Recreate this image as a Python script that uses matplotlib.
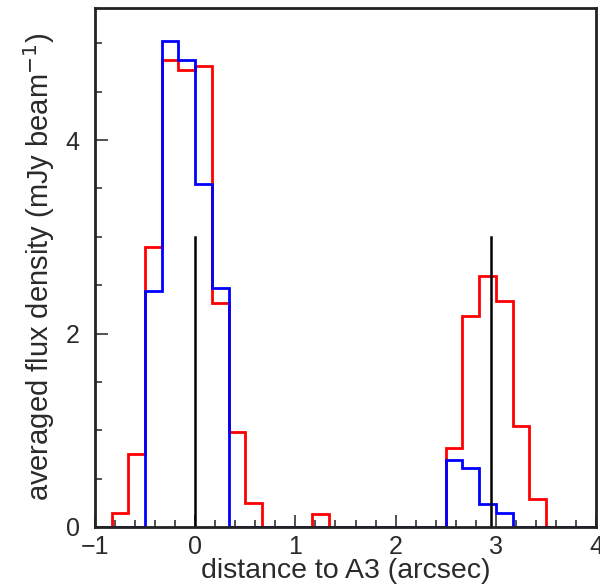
import numpy as np
import matplotlib
matplotlib.use("Agg")
import matplotlib.pyplot as plt
from matplotlib.ticker import MultipleLocator

# bin edges: width 1/6 arcsec from -1 to 4
bin_width = 1.0 / 6.0
x_min, x_max = -1.0, 4.0
n_bins = 30

red_values = [0.0, 0.14, 0.75, 2.89, 4.83, 4.72, 4.77, 2.32, 0.98, 0.25,
              0.0, 0.0, 0.0, 0.13, 0.0, 0.0, 0.0, 0.0, 0.0, 0.0,
              0.0, 0.82, 2.18, 2.59, 2.34, 1.04, 0.29, 0.0, 0.0, 0.0]
blue_values = [0.0, 0.0, 0.0, 2.44, 5.02, 4.83, 3.55, 2.47, 0.0, 0.0,
               0.0, 0.0, 0.0, 0.0, 0.0, 0.0, 0.0, 0.0, 0.0, 0.0,
               0.0, 0.69, 0.61, 0.24, 0.14, 0.0, 0.0, 0.0, 0.0, 0.0]
marker_x = [0.0, 2.95]
marker_height = 3.0

x_ticks = [-1, 0, 1, 2, 3, 4]
y_ticks = [0, 2, 4]

plt.rcParams['font.family'] = ['Liberation Sans', 'DejaVu Sans']

edges = x_min + bin_width * np.arange(n_bins + 1)

fig = plt.figure(figsize=(6.0, 5.84), dpi=100)
ax = fig.add_axes([95 / 600, 1 - 527 / 584, (596 - 95) / 600, (527 - 7.5) / 584])

ax.stairs(red_values, edges, color='#ff0000', lw=2.0, baseline=0)
ax.stairs(blue_values, edges, color='#0000ff', lw=2.0, baseline=0)
for mx in marker_x:
    ax.plot([mx, mx], [0, marker_height], color='black', lw=1.8)

ax.set_xlim(x_min, x_max)
ax.set_ylim(0, 5.37)
ax.set_xticks(x_ticks)
ax.set_yticks(y_ticks)
ax.xaxis.set_minor_locator(MultipleLocator(0.2))
ax.yaxis.set_minor_locator(MultipleLocator(0.5))
ax.tick_params(which='both', direction='in', top=False, right=False,
               labelsize=18, labelcolor='#2a2a2a', color='#333333')
ax.tick_params(which='major', length=9, width=1.2)
ax.tick_params(which='minor', length=5, width=1.2)
ax.tick_params(axis='x', which='major', pad=6)
ax.tick_params(axis='y', which='major', pad=11)
for s in ax.spines.values():
    s.set_linewidth(2.0)
    s.set_color('#222222')

ax.set_xlabel('distance to A3 (arcsec)', fontsize=20.5, color='#2a2a2a', labelpad=-1)
ax.set_ylabel('averaged flux density (mJy beam$^{-1}$)', fontsize=21,
              color='#2a2a2a', labelpad=6)

fig.savefig('out.png', dpi=100)
